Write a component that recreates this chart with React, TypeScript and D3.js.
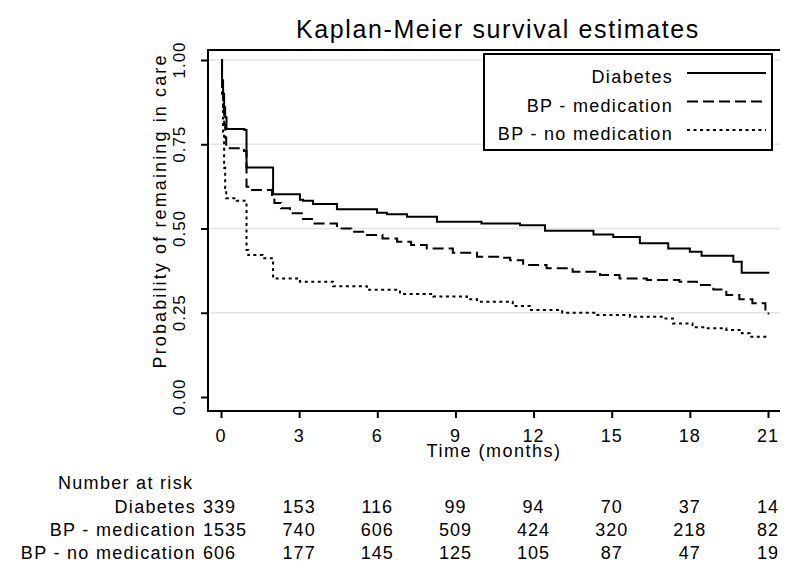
import { useEffect, useRef } from "react";
import * as d3 from "d3";

const WIDTH = 800;
const HEIGHT = 579;

// Kaplan-Meier step points (time in months, survival)
const diabetesTime = [0, 0.04, 0.08, 0.12, 0.16, 0.21, 0.9, 0.98, 2.0, 3.03, 3.15, 3.53, 4.45, 5.99, 6.37, 7.14, 8.29, 10.0, 11.48, 12.44, 14.3, 15.06, 16.08, 17.17, 18.0, 18.45, 19.67, 19.99, 21.05];
const diabetesSurv = [1, 0.94, 0.9, 0.86, 0.83, 0.795, 0.792, 0.681, 0.602, 0.585, 0.582, 0.573, 0.557, 0.547, 0.542, 0.535, 0.52, 0.515, 0.51, 0.493, 0.482, 0.475, 0.456, 0.441, 0.431, 0.419, 0.401, 0.369, 0.369];

const bpMedTime = [0, 0.04, 0.08, 0.12, 0.16, 0.2, 0.88, 0.98, 1.1, 1.96, 2.05, 2.3, 2.65, 3.1, 3.53, 4.45, 5.0, 5.6, 6.2, 6.76, 7.3, 7.9, 8.9, 9.83, 10.7, 11.1, 11.6, 12.5, 13.5, 14.55, 15.3, 16.35, 17.6, 18.27, 18.9, 19.4, 19.9, 20.4, 20.9, 21.05];
const bpMedSurv = [1, 0.92, 0.86, 0.81, 0.77, 0.738, 0.73, 0.624, 0.614, 0.594, 0.576, 0.56, 0.545, 0.528, 0.515, 0.5, 0.49, 0.481, 0.47, 0.461, 0.451, 0.441, 0.428, 0.416, 0.413, 0.406, 0.392, 0.382, 0.372, 0.362, 0.352, 0.347, 0.342, 0.332, 0.319, 0.303, 0.29, 0.278, 0.248, 0.248];

const bpNoMedTime = [0, 0.04, 0.08, 0.12, 0.16, 0.2, 0.6, 0.98, 1.05, 1.6, 2.0, 3.03, 4.3, 5.6, 6.87, 8.14, 9.44, 9.83, 11.2, 11.86, 13.1, 14.4, 15.7, 17.0, 17.35, 18.1, 18.6, 19.4, 20.0, 20.3, 21.05];
const bpNoMedSurv = [1, 0.9, 0.78, 0.68, 0.62, 0.59, 0.582, 0.436, 0.421, 0.412, 0.352, 0.342, 0.329, 0.318, 0.306, 0.298, 0.29, 0.283, 0.27, 0.258, 0.25, 0.243, 0.238, 0.233, 0.218, 0.207, 0.204, 0.199, 0.189, 0.179, 0.179];

const seriesNames = ["Diabetes", "BP - medication", "BP - no medication"];
const seriesDash = ["none", "11,5", "3,3.5"];

const xTicks = [0, 3, 6, 9, 12, 15, 18, 21];
const yTicks = [0, 0.25, 0.5, 0.75, 1];
const gridTicks = [0.25, 0.5, 0.75, 1];

// Number at risk table
const diabetesRisk = [339, 153, 116, 99, 94, 70, 37, 14];
const bpMedRisk = [1535, 740, 606, 509, 424, 320, 218, 82];
const bpNoMedRisk = [606, 177, 145, 125, 105, 87, 47, 19];

const FONT = "'Liberation Sans', Arial, sans-serif";

export default function App() {
  const svgRef = useRef<SVGSVGElement>(null);

  useEffect(() => {
    if (!svgRef.current) return;
    const svg = d3.select(svgRef.current);
    svg.selectAll("*").remove();

    const left = 208;
    const right = 780;
    const top = 50;
    const bottom = 411;

    const x = d3.scaleLinear().domain([0, 21]).range([221, 768]);
    const y = d3.scaleLinear().domain([0, 1]).range([397, 60]);

    svg.append("rect").attr("width", WIDTH).attr("height", HEIGHT).attr("fill", "white");

    // title
    svg
      .append("text")
      .attr("x", 498)
      .attr("y", 38)
      .attr("text-anchor", "middle")
      .attr("font-size", 25)
      .attr("letter-spacing", 1.6)
      .text("Kaplan-Meier survival estimates");

    // grid
    svg
      .append("g")
      .selectAll("line")
      .data(gridTicks)
      .join("line")
      .attr("x1", left + 2)
      .attr("x2", right)
      .attr("y1", (d) => y(d))
      .attr("y2", (d) => y(d))
      .attr("stroke", "#e4e4e4")
      .attr("stroke-width", 1.6);

    // frame
    const frame = svg.append("g").attr("stroke", "black").attr("stroke-width", 2);
    frame.append("line").attr("x1", left).attr("x2", right).attr("y1", top).attr("y2", top);
    frame.append("line").attr("x1", left).attr("x2", left).attr("y1", top - 1).attr("y2", bottom + 1);
    frame.append("line").attr("x1", left - 1).attr("x2", right).attr("y1", bottom).attr("y2", bottom);

    // y axis
    svg
      .append("g")
      .attr("transform", `translate(${left},0)`)
      .call(d3.axisLeft(y).tickValues(yTicks).tickSize(7).tickFormat(() => ""))
      .call((g) => g.select(".domain").remove())
      .call((g) => g.selectAll(".tick line").attr("stroke", "black").attr("stroke-width", 2));

    svg
      .append("g")
      .selectAll("text")
      .data(yTicks)
      .join("text")
      .attr("transform", (d) => `translate(185,${y(d)}) rotate(-90)`)
      .attr("text-anchor", "middle")
      .attr("font-size", 17)
      .attr("letter-spacing", 1)
      .text((d) => d3.format(".2f")(d));

    svg
      .append("text")
      .attr("transform", "translate(166,212) rotate(-90)")
      .attr("text-anchor", "middle")
      .attr("font-size", 18)
      .attr("textLength", 313)
      .attr("lengthAdjust", "spacing")
      .text("Probability of remaining in care");

    // x axis
    svg
      .append("g")
      .attr("transform", `translate(0,${bottom})`)
      .call(d3.axisBottom(x).tickValues(xTicks).tickSize(7).tickFormat(() => ""))
      .call((g) => g.select(".domain").remove())
      .call((g) => g.selectAll(".tick line").attr("stroke", "black").attr("stroke-width", 2));

    svg
      .append("g")
      .selectAll("text")
      .data(xTicks)
      .join("text")
      .attr("x", (d) => x(d))
      .attr("y", 442)
      .attr("text-anchor", "middle")
      .attr("font-size", 18)
      .attr("letter-spacing", 1)
      .text((d) => String(d));

    svg
      .append("text")
      .attr("x", 494)
      .attr("y", 457)
      .attr("text-anchor", "middle")
      .attr("font-size", 18)
      .attr("letter-spacing", 1.5)
      .text("Time (months)");

    // curves
    const curves = [
      { t: diabetesTime, s: diabetesSurv },
      { t: bpMedTime, s: bpMedSurv },
      { t: bpNoMedTime, s: bpNoMedSurv },
    ];
    const line = d3
      .line<[number, number]>()
      .x((d) => x(d[0]))
      .y((d) => y(d[1]))
      .curve(d3.curveStepAfter);

    svg
      .append("g")
      .selectAll("path")
      .data(curves)
      .join("path")
      .attr("d", (c) => line(c.t.map((t, i) => [t, c.s[i]] as [number, number])))
      .attr("fill", "none")
      .attr("stroke", "black")
      .attr("stroke-width", 2)
      .attr("stroke-dasharray", (_, i) => seriesDash[i]);

    // legend
    const legend = svg.append("g");
    legend
      .append("rect")
      .attr("x", 484)
      .attr("y", 54)
      .attr("width", 288)
      .attr("height", 96)
      .attr("fill", "white")
      .attr("stroke", "black")
      .attr("stroke-width", 2);

    seriesNames.forEach((name, i) => {
      const ly = 73 + i * 28.5;
      legend
        .append("line")
        .attr("x1", 687)
        .attr("x2", 766)
        .attr("y1", ly)
        .attr("y2", ly)
        .attr("stroke", "black")
        .attr("stroke-width", 2)
        .attr("stroke-dasharray", seriesDash[i]);
      legend
        .append("text")
        .attr("x", 673)
        .attr("y", ly + 10)
        .attr("text-anchor", "end")
        .attr("font-size", 18)
        .attr("letter-spacing", 1.3)
        .text(name);
    });

    // number at risk table
    svg
      .append("text")
      .attr("x", 58)
      .attr("y", 489)
      .attr("font-size", 18)
      .attr("letter-spacing", 1.3)
      .text("Number at risk");

    const riskRows = [diabetesRisk, bpMedRisk, bpNoMedRisk];
    riskRows.forEach((row, r) => {
      const ry = 513 + r * 23;
      svg
        .append("text")
        .attr("x", 196)
        .attr("y", ry)
        .attr("text-anchor", "end")
        .attr("font-size", 18)
        .attr("letter-spacing", 1.3)
        .text(seriesNames[r]);
      svg
        .append("g")
        .selectAll("text")
        .data(row)
        .join("text")
        .attr("x", (_, i) => (i === 0 ? 203 : x(xTicks[i])))
        .attr("y", ry)
        .attr("text-anchor", (_, i) => (i === 0 ? "start" : "middle"))
        .attr("font-size", 18)
        .attr("letter-spacing", 1)
        .text((d) => String(d));
    });
  }, []);

  return (
    <svg
      ref={svgRef}
      width={WIDTH}
      height={HEIGHT}
      style={{ position: "absolute", left: 0, top: 0, fontFamily: FONT }}
    />
  );
}
